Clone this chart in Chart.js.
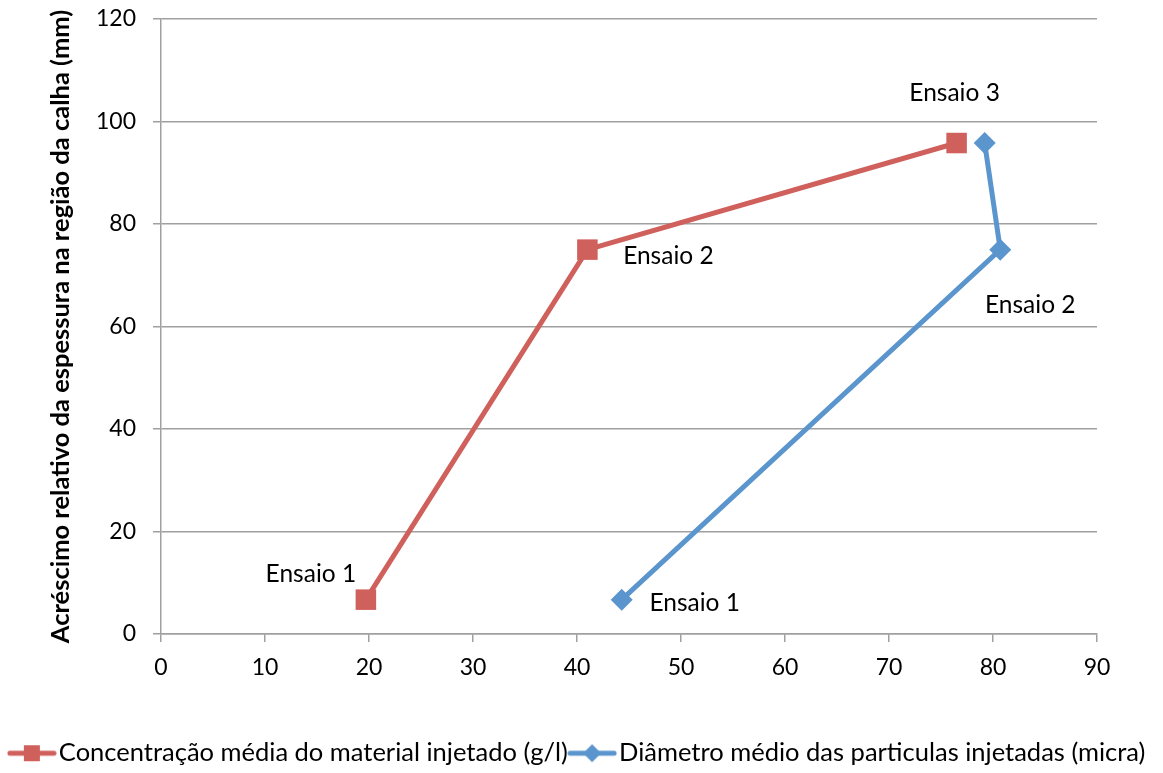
<!DOCTYPE html>
<html><head><meta charset="utf-8">
<script src="https://cdn.jsdelivr.net/npm/chart.js@4.4.0/dist/chart.umd.min.js"></script>
<style>html,body{margin:0;padding:0;background:#fff;} canvas{display:block;}</style>
</head><body>
<canvas id="c" width="1163" height="773"></canvas>
<script>
// ---- data ----
const seriesNames = ['Concentração média do material injetado (g/l)', 'Diâmetro médio das particulas injetadas (micra)'];
const concX = [19.7, 41.0, 76.5];
const concY = [6.7, 75.0, 95.8];
const diamX = [44.3, 80.7, 79.2];
const diamY = [6.7, 75.0, 95.8];
const concLabels = ['Ensaio 1', 'Ensaio 2', 'Ensaio 3'];
const diamLabels = ['Ensaio 1', 'Ensaio 2', ''];
const xTickValues = [0, 10, 20, 30, 40, 50, 60, 70, 80, 90];
const yTickValues = [0, 20, 40, 60, 80, 100, 120];
const yTitle = 'Acréscimo relativo da espessura na região da calha (mm)';

// ---- style ----
const RED = '#CF605B';
const BLUE = '#5B95CD';
const GRID = '#A0A0A0';
const FONT = 'Lato';

function legendIcon(color, shape) {
  const c = document.createElement('canvas');
  c.width = 50; c.height = 24;
  const g = c.getContext('2d');
  g.strokeStyle = color; g.lineWidth = 5; g.lineCap = 'round';
  g.beginPath(); g.moveTo(3, 12); g.lineTo(47, 12); g.stroke();
  g.fillStyle = color;
  if (shape === 'rect') {
    g.fillRect(17, 4, 16, 16);
  } else {
    g.beginPath(); g.moveTo(25, 3); g.lineTo(34, 12); g.lineTo(25, 21); g.lineTo(16, 12); g.closePath(); g.fill();
  }
  return c;
}
const icons = [legendIcon(RED, 'rect'), legendIcon(BLUE, 'diamond')];

const labelPlugin = {
  id: 'pointLabels',
  afterDatasetsDraw(chart, args, opts) {
    const ctx = chart.ctx;
    ctx.save();
    ctx.font = opts.size + 'px ' + FONT;
    ctx.fillStyle = '#000';
    ctx.textAlign = 'center';
    ctx.textBaseline = 'middle';
    chart.data.datasets.forEach((ds, i) => {
      const meta = chart.getDatasetMeta(i);
      meta.data.forEach((pt, j) => {
        const txt = ds.pointText[j];
        if (!txt) return;
        const off = opts.offsets[i][j];
        ctx.fillText(txt, pt.x + off[0], pt.y + off[1]);
      });
    });
    ctx.restore();
  }
};

const toPts = (xs, ys) => xs.map((x, i) => ({x: x, y: ys[i]}));

Chart.defaults.font.family = FONT;
Chart.defaults.font.size = 23;
Chart.defaults.color = '#000';

new Chart(document.getElementById('c'), {
  type: 'scatter',
  data: {
    datasets: [
      {
        label: seriesNames[0],
        data: toPts(concX, concY),
        pointText: concLabels,
        showLine: true,
        borderColor: RED, backgroundColor: RED,
        borderWidth: 5,
        pointStyle: 'rect', pointRadius: 14.5, pointHoverRadius: 14.5,
        pointBorderWidth: 0,
        order: 2
      },
      {
        label: seriesNames[1],
        data: toPts(diamX, diamY),
        pointText: diamLabels,
        showLine: true,
        borderColor: BLUE, backgroundColor: BLUE,
        borderWidth: 5,
        pointStyle: 'rectRot', pointRadius: 11, pointHoverRadius: 11,
        pointBorderWidth: 0,
        order: 1
      }
    ]
  },
  options: {
    responsive: false,
    devicePixelRatio: 1,
    animation: false,
    layout: { padding: { left: 0, right: 0, top: 19, bottom: -3 } },
    plugins: {
      tooltip: { enabled: false },
      legend: {
        position: 'bottom',
        labels: {
          usePointStyle: true,
          pointStyleWidth: 28.5,
          padding: 10,
          font: { size: 25.5 },
          color: '#000',
          generateLabels(chart) {
            return chart.data.datasets.map((ds, i) => ({
              text: ds.label, pointStyle: icons[i], fillStyle: ds.backgroundColor,
              strokeStyle: ds.borderColor, lineWidth: 0, hidden: false, datasetIndex: i
            }));
          }
        }
      },
      pointLabels: {
        size: 24.5,
        offsets: [
          [[-55, -26], [81, 6], [-2, -50]],
          [[73, 3], [30, 55], [0, 0]]
        ]
      }
    },
    scales: {
      x: {
        type: 'linear', min: 0, max: 90,
        afterBuildTicks(s) { s.ticks = xTickValues.map(v => ({value: v})); },
        afterFit(s) { s.height = 96.5; },
        grid: { drawOnChartArea: false, drawTicks: true, tickLength: 8, color: GRID, lineWidth: 1.5 },
        border: { display: true, color: GRID, width: 1.5 },
        ticks: { padding: 12, font: { size: 23 }, color: '#000', maxRotation: 0 }
      },
      y: {
        type: 'linear', min: 0, max: 120,
        afterBuildTicks(s) { s.ticks = yTickValues.map(v => ({value: v})); },
        afterFit(s) { s.width = 161; s.paddingTop = 0; s.paddingBottom = 0; },
        grid: { drawOnChartArea: true, drawTicks: true, tickLength: 8, color: GRID, lineWidth: 1.5 },
        border: { display: true, color: GRID, width: 1.5 },
        ticks: { padding: 17, font: { size: 23 }, color: '#000' },
        title: { display: true, text: yTitle, font: { size: 25.5, weight: 'bold' }, color: '#000', padding: { top: 45, bottom: 0 } }
      },
      yRight: {
        type: 'linear', position: 'right', min: 0, max: 120,
        afterFit(s) { s.width = 66; s.paddingTop = 0; s.paddingBottom = 0; },
        grid: { display: false, drawTicks: false },
        border: { display: false },
        ticks: { display: false }
      }
    }
  },
  plugins: [labelPlugin]
});
</script>
</body></html>
